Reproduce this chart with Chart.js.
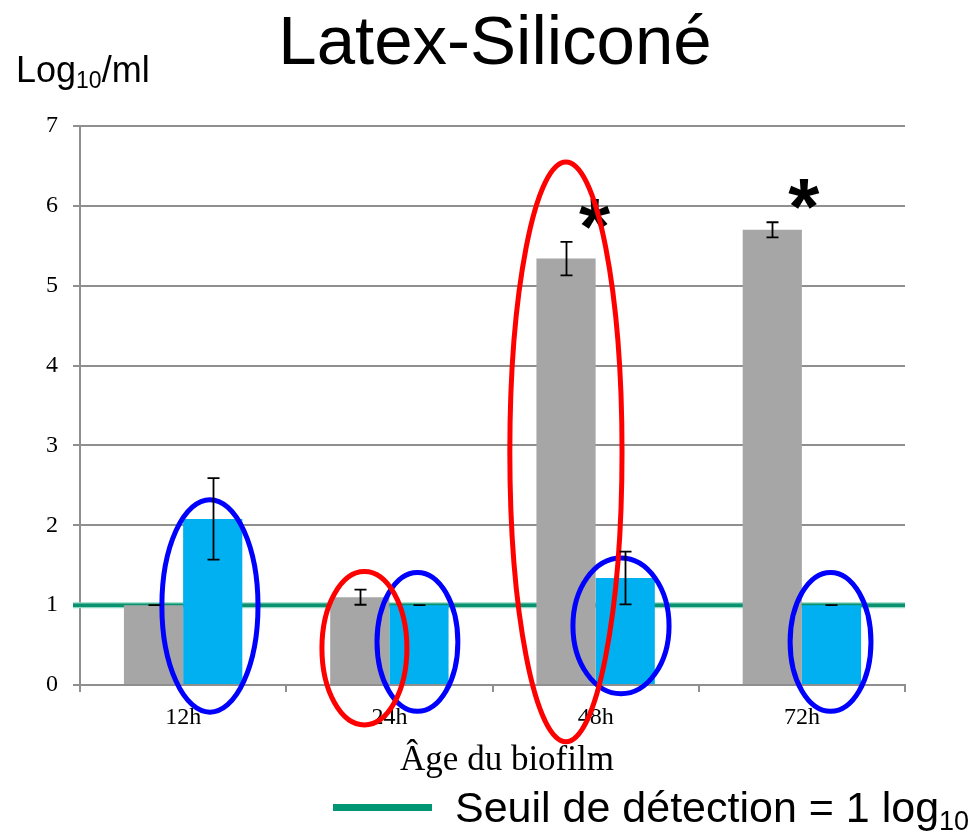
<!DOCTYPE html>
<html lang="fr">
<head>
<meta charset="utf-8">
<title>Latex-Siliconé</title>
<script src="https://cdn.jsdelivr.net/npm/chart.js@4/dist/chart.umd.min.js"></script>
<style>
  html, body { margin: 0; padding: 0; background: #ffffff; }
  #wrap { width: 969px; height: 832px; }
  canvas { display: block; }
</style>
</head>
<body>
<div id="wrap"><canvas id="chart" width="969" height="832"></canvas></div>
<script>
// Biofilm counts (log10/ml) per biofilm age, two catheter materials
const categories = ['12h', '24h', '48h', '72h'];
const latexValues = [1.00, 1.10, 5.34, 5.70];
const latexErrors = [0.00, 0.095, 0.21, 0.095];
const siliconeValues = [2.08, 1.00, 1.34, 1.00];
const siliconeErrors = [0.51, 0.00, 0.33, 0.00];
const yTicks = [0, 1, 2, 3, 4, 5, 6, 7];
const detectionLimit = 1;
// significance stars: category index and height (log10/ml)
const starCategories = [2, 3];
const starLevels = [5.90, 6.15];

const GRID = '#8f8f8f';
const SERIF = "'Liberation Serif', 'DejaVu Serif', serif";
const SANS = "'Liberation Sans', Arial, sans-serif";

// circled groups: category index, shift and half-width as a fraction of the
// category width, centre and half-height in axis units
const highlights = [
  { cat: 0, shift: 0.130, level: 0.99, rx: 0.233, ry: 1.33, colour: '#0000ff' },
  { cat: 1, shift: 0.136, level: 0.54, rx: 0.196, ry: 0.87, colour: '#0000ff' },
  { cat: 2, shift: 0.123, level: 0.74, rx: 0.233, ry: 0.85, colour: '#0000ff' },
  { cat: 3, shift: 0.139, level: 0.54, rx: 0.196, ry: 0.87, colour: '#0000ff' },
  { cat: 1, shift: -0.121, level: 0.46, rx: 0.206, ry: 0.96, colour: '#ff0000' },
  { cat: 2, shift: -0.144, level: 2.92, rx: 0.272, ry: 3.63, colour: '#ff0000' }
];

// text with a smaller lowered run, e.g. Log10
function drawSubText(ctx, parts, x, y) {
  let cx = x;
  for (const p of parts) {
    ctx.font = p.font;
    ctx.fillText(p.text, cx, y + (p.dy || 0));
    cx += ctx.measureText(p.text).width;
  }
}

const threshold = {
  id: 'threshold',
  beforeDatasetsDraw(chart) {
    const { ctx, chartArea, scales } = chart;
    const y = scales.y.getPixelForValue(detectionLimit);
    ctx.save();
    ctx.lineCap = 'butt';
    ctx.strokeStyle = '#8fd8c3';
    ctx.lineWidth = 6;
    ctx.beginPath(); ctx.moveTo(chartArea.left - 7, y); ctx.lineTo(chartArea.right, y); ctx.stroke();
    ctx.strokeStyle = '#0a9270';
    ctx.lineWidth = 3.5;
    ctx.beginPath(); ctx.moveTo(chartArea.left - 7, y); ctx.lineTo(chartArea.right, y); ctx.stroke();
    ctx.restore();
  }
};

const annotations = {
  id: 'annotations',
  afterDatasetsDraw(chart) {
    const { ctx, scales } = chart;
    const xs = scales.x, ys = scales.y;
    const catW = xs.width / categories.length;
    ctx.save();

    // significance stars
    ctx.fillStyle = '#000';
    ctx.font = `bold 80px ${SANS}`;
    ctx.textAlign = 'center';
    ctx.textBaseline = 'alphabetic';
    starCategories.forEach((c, i) => {
      const m = ctx.measureText('*');
      const x = xs.getPixelForValue(c);
      const yc = ys.getPixelForValue(starLevels[i]);
      const base = yc + (m.actualBoundingBoxAscent - m.actualBoundingBoxDescent) / 2;
      ctx.fillText('*', x + (i === 1 ? 2 : -1), base);
    });

    // ellipses around compared bars
    ctx.lineWidth = 5;
    highlights.forEach(h => {
      const cx = xs.getPixelForValue(h.cat) + h.shift * catW;
      const cy = ys.getPixelForValue(h.level);
      const rx = h.rx * catW;
      const ry = Math.abs(ys.getPixelForValue(h.level + h.ry) - cy);
      ctx.strokeStyle = h.colour;
      ctx.beginPath();
      ctx.ellipse(cx, cy, rx, ry, 0, 0, Math.PI * 2);
      ctx.stroke();
    });

    // error bars
    ctx.strokeStyle = '#000';
    ctx.lineWidth = 1.8;
    [[latexValues, latexErrors], [siliconeValues, siliconeErrors]].forEach(([vals, errs], d) => {
      const meta = chart.getDatasetMeta(d);
      meta.data.forEach((bar, i) => {
        const x = Math.round(bar.x) + 0.5;
        const top = ys.getPixelForValue(vals[i] + errs[i]);
        const bot = ys.getPixelForValue(vals[i] - errs[i]);
        ctx.beginPath();
        ctx.moveTo(x, top); ctx.lineTo(x, bot);
        ctx.moveTo(x - 6, top); ctx.lineTo(x + 6, top);
        ctx.moveTo(x - 6, bot); ctx.lineTo(x + 6, bot);
        ctx.stroke();
      });
    });
    ctx.restore();
  },
  afterDraw(chart) {
    const { ctx } = chart;
    ctx.save();
    ctx.fillStyle = '#000';
    ctx.textBaseline = 'alphabetic';

    // title
    ctx.textAlign = 'center';
    ctx.font = `69px ${SANS}`;
    ctx.fillText('Latex-Siliconé', 495, 64);

    // unit label
    ctx.textAlign = 'left';
    drawSubText(ctx, [
      { text: 'Log', font: `36px ${SANS}` },
      { text: '10', font: `23px ${SANS}`, dy: 6 },
      { text: '/ml', font: `36px ${SANS}` }
    ], 16, 82);

    // x-axis title
    ctx.textAlign = 'center';
    ctx.font = `35px ${SERIF}`;
    ctx.fillText('Âge du biofilm', 507, 770);

    // legend for the detection limit
    ctx.fillStyle = '#009673';
    ctx.fillRect(333, 804, 99, 7);
    ctx.fillStyle = '#000';
    ctx.textAlign = 'left';
    drawSubText(ctx, [
      { text: 'Seuil de détection = 1 log', font: `43px ${SANS}` },
      { text: '10', font: `27px ${SANS}`, dy: 8 }
    ], 455, 822);
    ctx.restore();
  }
};

new Chart(document.getElementById('chart'), {
  type: 'bar',
  data: {
    labels: categories,
    datasets: [
      { label: 'Latex', data: latexValues, backgroundColor: '#a6a6a6',
        categoryPercentage: 0.574, barPercentage: 1 },
      { label: 'Siliconé', data: siliconeValues, backgroundColor: '#00b0f0',
        categoryPercentage: 0.574, barPercentage: 1 }
    ]
  },
  options: {
    responsive: false,
    animation: false,
    events: [],
    layout: { padding: { top: 126, right: 64, left: 0, bottom: 0 } },
    plugins: { legend: { display: false }, tooltip: { enabled: false }, title: { display: false } },
    scales: {
      x: {
        grid: { offset: true, drawOnChartArea: false, drawTicks: true, tickLength: 7, color: GRID, lineWidth: 2 },
        border: { color: GRID, width: 2 },
        ticks: { color: '#000', font: { family: SERIF, size: 24 }, padding: 11 },
        afterFit(scale) { scale.height = 147; }
      },
      y: {
        min: yTicks[0],
        max: yTicks[yTicks.length - 1],
        afterBuildTicks(scale) { scale.ticks = yTicks.map(v => ({ value: v })); },
        grid: { color: GRID, lineWidth: 2, tickLength: 7 },
        border: { color: GRID, width: 2 },
        ticks: { color: '#000', font: { family: SERIF, size: 24 }, padding: 15 },
        afterFit(scale) { scale.width = 80; }
      }
    }
  },
  plugins: [threshold, annotations]
});
</script>
</body>
</html>
